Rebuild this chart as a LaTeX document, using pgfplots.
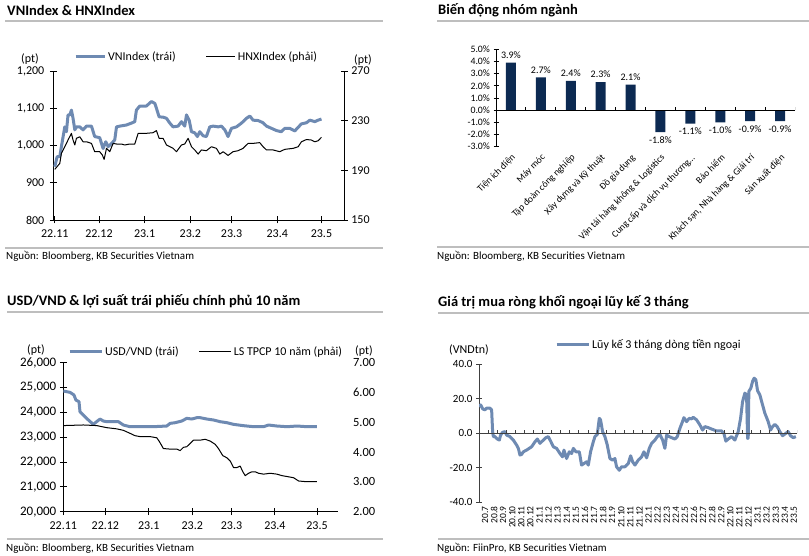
\documentclass[border=0pt]{standalone}
\usepackage{pgfplots}
\pgfplotsset{compat=1.18}
\usepackage{fontspec}
\setmainfont{Carlito}
\definecolor{vnblue}{RGB}{110,138,178}
\definecolor{barnavy}{RGB}{12,42,82}
\definecolor{rulegray}{RGB}{190,190,190}
\newcommand{\fs}[1]{\fontsize{#1}{#1}\selectfont}
\pgfplotsset{
  every axis/.append style={
    scale only axis, anchor=south west,
    /pgf/number format/assume math mode=true,
    /pgf/number format/1000 sep={,},
    scaled ticks=false,
    axis line style={black, line width=0.9pt},
    tick style={black, line width=0.9pt},
    major tick length=7pt,
    tick align=center,
    legend cell align=left,
  }
}
\begin{document}
\begin{tikzpicture}[x=1pt,y=1pt]
\path[use as bounding box] (0,0) rectangle (809,556);

% ---------- frames: titles, rules, sources ----------
\node[anchor=west,inner sep=0,font=\fs{14.5}\bfseries] at (7,546) {VNIndex \& HNXIndex};
\draw[rulegray,line width=1.5pt] (5,535) -- (383,535);
\draw[rulegray,line width=1.5pt] (5,308) -- (383,308);
\node[anchor=west,inner sep=0,font=\fs{11}] at (6,300) {Nguồn: Bloomberg, KB Securities Vietnam};

\node[anchor=west,inner sep=0,font=\fs{14.5}\bfseries] at (438,546) {Biến động nhóm ngành};
\draw[rulegray,line width=1.5pt] (437,535) -- (809,535);
\draw[rulegray,line width=1.5pt] (437,309) -- (809,309);
\node[anchor=west,inner sep=0,font=\fs{11}] at (437,300) {Nguồn: Bloomberg, KB Securities Vietnam};

\node[anchor=west,inner sep=0,font=\fs{14.5}\bfseries] at (7,255) {USD/VND \& lợi suất trái phiếu chính phủ 10 năm};
\draw[rulegray,line width=1.5pt] (7,244) -- (383,244);
\draw[rulegray,line width=1.5pt] (7,17) -- (383,17);
\node[anchor=west,inner sep=0,font=\fs{11}] at (6,8) {Nguồn: Bloomberg, KB Securities Vietnam};

\node[anchor=west,inner sep=0,font=\fs{14.5}\bfseries] at (438,254) {Giá trị mua ròng khối ngoại lũy kế 3 tháng};
\draw[rulegray,line width=1.5pt] (438,243) -- (809,243);
\draw[rulegray,line width=1.5pt] (438,17) -- (809,17);
\node[anchor=west,inner sep=0,font=\fs{11}] at (437,8) {Nguồn: FiinPro, KB Securities Vietnam};

% ---------- Panel 1: VNIndex & HNXIndex ----------
\node[font=\fs{12}] at (30,497) {(pt)};
\node[font=\fs{12}] at (363,496) {(pt)};
\begin{axis}[
  at={(53.3pt,336pt)}, width=291pt, height=149pt,
  xmin=-1, xmax=196.5, ymin=800, ymax=1200,
  axis x line*=bottom, axis y line*=left,
  xtick={0,30,61,92,120,151,181},
  xticklabels={22.11,22.12,23.1,23.2,23.3,23.4,23.5},
  ytick={800,900,1000,1100,1200},
  tick label style={font=\fs{12}},
  xticklabel style={yshift=-3pt},
  yticklabel style={xshift=-2pt},
  legend style={at={(0.071,1.094)}, anchor=west, draw=none, fill=none, inner sep=0pt,
    legend columns=2, font=\fs{12}, /tikz/every even column/.append style={column sep=28pt}},
  legend image code/.code={\draw[#1] (0pt,0pt) -- (29pt,0pt);},
]
\addplot[vnblue, line width=3pt, line join=round] coordinates {
(0,943) (1.6,970) (3.4,970) (4.5,997) (6.8,1050) (7.9,1037) (9.0,1082) (10.2,1082)
(11.3,1095) (12.4,1073) (13.6,1042) (14.7,1050) (17.0,1050) (19.2,1042) (21.5,1052)
(24.9,1052) (27.1,1024) (30.5,1021) (32.8,992) (34.6,1010) (36.2,997) (38.5,1005)
(40.7,1015) (41.9,1050) (44.1,1052) (48.6,1055) (52.0,1060) (54.3,1064) (55.4,1095)
(57.7,1106) (62.2,1106) (65.6,1118) (67.9,1113) (69.0,1100) (70.8,1077) (73.5,1076)
(75.8,1073) (78.1,1060) (80.3,1050) (83.7,1052) (86.0,1064) (88.2,1052) (89.4,1082)
(91.2,1068) (92.8,1037) (95.0,1034) (96.8,1024) (98.4,1037) (100.7,1026) (102.9,1024)
(105.2,1050) (107.5,1052) (110.9,1050) (113.1,1052) (115.4,1042) (117.6,1024)
(119.9,1046) (123.3,1050) (126.7,1060) (130.1,1073) (132.4,1079) (134.6,1068)
(138.0,1067) (141.4,1061) (143.7,1052) (147.1,1046) (150.5,1040) (153.8,1037)
(156.1,1046) (159.5,1046) (162.9,1039) (165.2,1049) (167.4,1058) (170.8,1061)
(173.1,1068) (176.5,1064) (178.7,1068) (181.0,1071)
};
\addlegendentry{VNIndex (trái)}
\addlegendimage{black, line width=1pt}
\addlegendentry{HNXIndex (phải)}
\end{axis}
\begin{axis}[
  at={(53.3pt,336pt)}, width=291pt, height=149pt,
  xmin=-1, xmax=196.5, ymin=150, ymax=270,
  axis x line=none, axis y line*=right,
  ytick={150,190,230,270},
  tick label style={font=\fs{12}},
]
\addplot[black, line width=1pt, line join=round] coordinates {
(0,190.8) (1.6,193) (3.4,195.6) (4.5,203.7) (6.8,209) (9.0,214.4) (11.3,219.8)
(12.4,214.4) (13.6,210.4) (14.7,215.8) (17.0,217) (19.2,213) (21.5,213) (24.9,211.7)
(27.1,205) (30.5,205) (32.3,202.3) (33.5,198.8) (35.1,207.7) (37.3,205) (39.6,211.7)
(41.9,211.2) (45.2,211.2) (47.5,210.4) (50.9,211.2) (54.3,211.2) (56.6,219.8)
(62.2,219.8) (66.7,220.3) (69.0,222) (70.8,215.8) (73.5,215.8) (75.8,210.4) (78.1,209)
(80.3,207.7) (82.6,205) (86.0,210.4) (88.2,211.2) (90.5,215.8) (92.8,209) (95.0,206.4)
(97.3,203.1) (99.5,206.4) (102.9,205.8) (106.3,209) (109.7,207.7) (112.0,203.1)
(114.3,205) (117.6,202) (121.0,205) (124.4,205.8) (127.8,207.7) (131.2,211.7)
(134.6,211.7) (139.1,212.3) (141.4,209) (143.7,206.4) (148.2,206.4) (152.7,205)
(156.1,206.9) (161.8,207.7) (165.2,209) (167.4,213) (170.8,214.8) (174.2,214.4)
(176.5,213) (178.7,213.8) (181.0,216.6)
};
\end{axis}

% ---------- Panel 2: bar chart ----------
\begin{axis}[
  at={(496pt,409.3pt)}, width=299pt, height=97.4pt,
  xmin=-0.5, xmax=9.5, ymin=-3, ymax=5,
  axis x line*=bottom, axis y line*=left,
  x axis line style={draw=none}, xtick style={draw=none},
  major tick length=5pt,
  xtick={0,...,9},
  xticklabels={Tiện ích điện, Máy móc, Tập đoàn công nghiệp, Xây dựng và Kỹ thuật,
    Đồ gia dụng, Vận tải hàng không \& Logistics, Cung cấp và dịch vụ thương…,
    Bảo hiểm, {Khách sạn, Nhà hàng \& Giải trí}, Sản xuất điện},
  xticklabel style={rotate=45, anchor=north east, font=\fs{9.5}, inner sep=1pt},
  ytick={-3,-2,...,5},
  yticklabel={\pgfmathprintnumber[fixed,fixed zerofill,precision=1]{\tick}\%},
  yticklabel style={font=\fs{9.8}},
  ybar, bar width=10pt,
  point meta=y,
  nodes near coords={\pgfmathprintnumber[fixed,fixed zerofill,precision=1]{\pgfplotspointmeta}\%},
  every node near coord/.append style={font=\fs{10}, inner sep=4pt},
]
\addplot[fill=barnavy, draw=none] coordinates {
(0,3.9) (1,2.7) (2,2.4) (3,2.3) (4,2.1) (5,-1.8) (6,-1.1) (7,-1.0) (8,-0.9) (9,-0.9)};
\draw[black, line width=0.9pt] (axis cs:-0.5,0) -- (axis cs:9.5,0);
\pgfplotsinvokeforeach{0.5,1.5,...,9.5}{\draw[black, line width=0.9pt] (axis cs:#1,0) -- ++(0pt,3pt);}
\end{axis}

% ---------- Panel 3: USD/VND & yield ----------
\node[font=\fs{12}] at (36,206) {(pt)};
\node[font=\fs{12}] at (364,205) {(pt)};
\begin{axis}[
  at={(63.3pt,44.3pt)}, width=274.7pt, height=149pt,
  xmin=0, xmax=196, ymin=20000, ymax=26000,
  axis x line*=bottom, axis y line*=left,
  xtick={0,30,61,92,120,151,181},
  xticklabels={22.11,22.12,23.1,23.2,23.3,23.4,23.5},
  ytick={20000,21000,...,26000},
  xticklabel style={font=\fs{12}, yshift=-3pt},
  yticklabel style={font=\fs{13}},
  legend style={at={(0.017,1.072)}, anchor=west, draw=none, fill=none, inner sep=0pt,
    legend columns=2, font=\fs{12}, /tikz/every even column/.append style={column sep=18pt}},
  legend image code/.code={\draw[#1] (0pt,0pt) -- (32pt,0pt);},
]
\addplot[vnblue, line width=3pt, line join=round] coordinates {
(0,24859) (4.8,24806) (7.6,24700) (9.0,24497) (11.2,24430) (11.9,24027) (14.3,23893)
(17.9,23692) (21.4,23517) (23.8,23625) (26.2,23732) (28.6,23651) (31.0,23625)
(35.7,23625) (39.3,23625) (42.9,23490) (47.6,23423) (54.8,23423) (64.3,23423)
(73.8,23450) (76.2,23557) (79.8,23584) (84.5,23651) (88.1,23759) (91.7,23732)
(95.3,23786) (97.6,23786) (102.4,23732) (107.2,23692) (111.9,23625) (116.7,23584)
(121.5,23517) (128.6,23464) (135.7,23423) (142.9,23423) (146.5,23490) (152.4,23450)
(159.6,23423) (166.7,23450) (173.9,23423) (181.0,23423)
};
\addlegendentry{USD/VND (trái)}
\addlegendimage{black, line width=1pt}
\addlegendentry{LS TPCP 10 năm (phải)}
\end{axis}
\begin{axis}[
  at={(63.3pt,44.3pt)}, width=274.7pt, height=149pt,
  xmin=0, xmax=196, ymin=2, ymax=7,
  axis x line=none, axis y line*=right,
  y axis line style={draw=none}, ytick style={draw=none},
  ytick={2,3,...,7},
  yticklabel style={font=\fs{12.5}, xshift=8pt, /pgf/number format/.cd, fixed, fixed zerofill, precision=2},
]
\addplot[black, line width=1pt, line join=round] coordinates {
(0,4.89) (14.3,4.91) (23.8,4.89) (31.0,4.82) (38.1,4.78) (42.9,4.73) (47.6,4.63)
(51.2,4.55) (54.8,4.52) (61.9,4.52) (66.7,4.48) (68.6,4.35) (71.4,4.12) (76.2,4.10)
(81.0,4.10) (83.4,4.05) (85.7,4.16) (88.1,4.18) (90.5,4.29) (92.9,4.40) (97.6,4.40)
(101.2,4.43) (104.8,4.37) (108.4,4.26) (110.7,4.12) (113.8,3.88) (116.7,3.81)
(119.1,3.70) (121.5,3.48) (123.8,3.48) (126.2,3.53) (128.1,3.34) (129.8,3.21)
(132.2,3.29) (134.6,3.34) (136.9,3.34) (139.3,3.29) (142.9,3.26) (147.7,3.29)
(152.4,3.26) (156.0,3.21) (160.8,3.17) (164.3,3.14) (167.9,3.03) (172.7,3.01)
(177.4,3.01) (181.0,3.01)
};
\end{axis}

% ---------- Panel 4: foreign net buying ----------
\node[font=\fs{12}] at (469,206) {(VNDtn)};
\begin{axis}[
  at={(479pt,54pt)}, width=318pt, height=138pt,
  xmin=0, xmax=35, ymin=-40, ymax=40,
  axis x line*=bottom, axis y line*=left,
  x axis line style={draw=none}, xtick style={draw=none},
  y axis line style={black!75}, ytick style={black!75},
  major tick length=6pt,
  xtick={0,...,34},
  xticklabels={20.7,20.8,20.9,20.10,20.11,20.12,21.1,21.2,21.3,21.4,21.5,21.6,21.7,21.8,21.9,21.10,21.11,21.12,22.1,22.2,22.3,22.4,22.5,22.6,22.7,22.8,22.9,22.10,22.11,22.12,23.1,23.2,23.3,23.4,23.5},
  xticklabel style={rotate=90, anchor=east, font=\fs{9.5}, inner sep=0pt, xshift=-1pt, yshift=-6pt},
  ytick={-40,-20,0,20,40},
  yticklabel style={font=\fs{11}, /pgf/number format/.cd, fixed, fixed zerofill, precision=1},
  legend style={at={(0.239,1.138)}, anchor=west, draw=none, fill=none, inner sep=0pt, font=\fs{12}},
  legend image code/.code={\draw[#1] (0pt,0pt) -- (32pt,0pt);},
]
\addplot[vnblue, line width=3pt, line join=round] coordinates {
(0,15.3) (0.18,16.3) (0.40,14.0) (0.66,13.4) (0.84,14.4) (1.21,14.4) (1.39,13.4)
(1.50,0.8) (1.58,-2.1) (1.76,-2.1) (2.02,-3.5) (2.24,-4.1) (2.38,-1.2) (2.60,0.4)
(2.86,0.8) (3.04,-1.2) (3.41,-2.1) (3.78,-4.1) (4.14,-7.0) (4.33,-8.9) (4.51,-12.8)
(4.69,-12.4) (4.88,-10.9) (5.24,-9.9) (5.79,-8.0) (6.16,-5.1) (6.42,-3.5) (6.71,-6.0)
(7.08,-4.1) (7.37,-2.7) (7.63,-2.1) (7.92,-5.1) (8.18,-8.0) (8.54,-8.9) (8.91,-11.9)
(9.20,-13.8) (9.35,-9.9) (9.64,-14.8) (9.94,-10.9) (10.19,-11.9) (10.38,-8.9)
(10.67,-10.9) (11.04,-10.9) (11.29,-18.6) (11.55,-17.7) (11.84,-16.7) (12.03,-18.6)
(12.28,-10.9) (12.58,-5.1) (12.76,-2.1) (13.02,-0.8) (13.24,8.5) (13.38,7.6)
(13.60,0.8) (13.86,-2.1) (14.12,-7.0) (14.41,-14.8) (14.70,-15.7) (14.96,-14.8)
(15.14,-19.6) (15.44,-21.6) (15.69,-19.6) (16.06,-19.6) (16.43,-17.7) (16.69,-13.2)
(16.91,-16.7) (17.16,-18.6) (17.53,-15.7) (17.90,-13.8) (18.15,-10.9) (18.45,-14.4)
(18.74,-8.9) (19.00,-6.0) (19.36,-4.1) (19.62,-2.1) (19.91,-0.8) (20.21,-4.1)
(20.46,-8.9) (20.65,-1.2) (20.94,-2.1) (21.20,-2.7) (21.56,-3.5) (21.82,-2.1)
(22.11,2.7) (22.40,6.6) (22.55,8.9) (22.85,6.6) (23.14,8.5) (23.40,8.2) (23.58,9.1)
(23.95,7.6) (24.31,4.7) (24.61,1.7) (24.86,3.7) (25.23,3.1) (25.60,2.3) (26.15,1.2)
(26.70,1.2) (26.95,-0.2) (27.17,-4.7) (27.43,-3.5) (27.80,-2.1) (28.16,-4.1)
(28.53,0.8) (28.79,8.5) (29.01,18.2) (29.26,23.1) (29.45,22.1) (29.56,-3.1)
(29.63,-3.0) (29.70,24.1) (29.92,26.0) (30.11,29.9) (30.29,31.8) (30.47,30.9)
(30.66,24.5) (30.91,22.1) (31.21,16.3) (31.46,11.5) (31.83,6.6) (32.09,1.7)
(32.31,3.7) (32.56,5.0) (32.82,3.7) (33.11,0.8) (33.41,-1.6) (33.77,-0.2) (34.03,0.8)
(34.29,-1.6) (34.58,-2.7) (34.87,-2.1)
};
\addlegendentry{Lũy kế 3 tháng dòng tiền ngoại}
\draw[black!75, line width=0.9pt] (axis cs:0,0) -- (axis cs:35,0);
\pgfplotsinvokeforeach{1,...,35}{\draw[black!75, line width=0.9pt] (axis cs:#1,0) -- ++(0pt,3pt);}
\end{axis}
\end{tikzpicture}
\end{document}
